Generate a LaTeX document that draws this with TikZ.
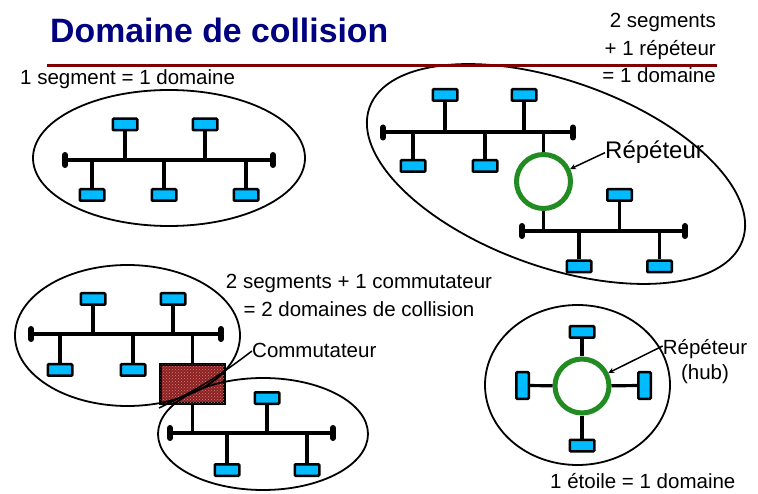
\documentclass[tikz,border=0pt]{standalone}
\usepackage{fontspec}
\setmainfont{Liberation Sans}
\usetikzlibrary{patterns}
\definecolor{titleblue}{RGB}{0,0,128}
\definecolor{ruledark}{RGB}{128,0,0}
\definecolor{stationblue}{RGB}{0,187,255}
\definecolor{hubgreen}{RGB}{34,139,34}
\definecolor{switchred}{RGB}{140,32,32}
\definecolor{switchdots}{RGB}{205,130,130}
\tikzset{
  station/.style={draw,line width=2.5pt,fill=stationblue,rounded corners=1pt,
    minimum width=24.5pt,minimum height=11.5pt,inner sep=0pt},
  vstation/.style={station,minimum width=12.5pt,minimum height=26.5pt},
  bus/.style={line width=4pt},
  stub/.style={line width=3.2pt},
  endcap/.style={line width=6pt,line cap=round},
  zone/.style={line width=1.8pt},
  hub/.style={circle,draw=hubgreen,line width=5pt,minimum size=54pt,inner sep=0pt},
  commbox/.style={draw,line width=3pt,fill=switchred,minimum width=64pt,minimum height=39pt,
    inner sep=0pt,postaction={pattern=crosshatch dots,pattern color=switchdots}},
  lbl/.style={inner sep=0pt,font=\fontsize{20.5}{27.5}\selectfont}
}
\begin{document}
\begin{tikzpicture}[x=1pt,y=-1pt,>=stealth]
\fill[white] (0,0) rectangle (758,494);
\useasboundingbox (0,0) rectangle (758,494);
\node[anchor=base west,inner sep=0pt,text=titleblue,font=\bfseries\fontsize{33.8}{40}\selectfont]
  (title) at (50,43) {Domaine de collision};
\node[lbl,anchor=base west] (dom1) at (20,85) {1 segment = 1 domaine};
\node[lbl,anchor=north east,align=right] (dom2) at (716,13) {2 segments\\+ 1 répéteur\\= 1 domaine};
\node[lbl,anchor=base west,font=\fontsize{24}{28}\selectfont] (rep1) at (605,159) {Répéteur};
\node[lbl,anchor=north,align=center,font=\fontsize{20.5}{28}\selectfont] (dom3) at (359,274)
  {2 segments + 1 commutateur\\= 2 domaines de collision};
\node[lbl,anchor=base west] (com) at (252,358) {Commutateur};
\node[lbl,anchor=north,align=center,font=\fontsize{20.5}{25}\selectfont] (rep2) at (705,339) {Répéteur\\(hub)};
\node[lbl,anchor=base west] (dom5) at (550,488) {1 étoile = 1 domaine};
\foreach \xa/\xb/\y [count=\i] in {65/273/160,383/573/132.5,522/685/231,31/221/334,170/333/433}{
  \coordinate (busL\i) at (\xa,\y);
  \coordinate (busR\i) at (\xb,\y);
  \draw[bus] (busL\i) -- (busR\i);
  \draw[endcap] (\xa,\y-5) -- (\xa,\y+5);
  \draw[endcap] (\xb,\y-5) -- (\xb,\y+5);
}
\foreach \x/\y/\b [count=\i] in {125/124.5/1,205/124.5/1,92/195/1,164/195/1,246/195/1,
    445/95/2,524/95/2,413/166/2,485/166/2,619.5/195/3,579/266.5/3,659.5/266.5/3,
    93/299/4,173/299/4,60/370/4,133/370/4,267/398/5,227/470/5,307/470/5}{
  \node[station] (st\i) at (\x,\y) {};
  \draw[stub] (st\i) -- (st\i |- busL\b);
}
\node[hub] (hub1) at (543.5,181.5) {};
\draw[stub] (hub1) -- (hub1 |- busL2);
\draw[stub] (hub1) -- (hub1 |- busL3);
\node[commbox] (sw) at (192.5,384) {};
\draw[stub] (sw) -- (sw |- busL4);
\draw[stub] (sw) -- (sw |- busL5);
\node[hub] (hub2) at (582,386) {};
\node[station] (top5) at (582,332) {};
\node[station] (bot5) at (582,445.5) {};
\node[vstation] (lft5) at (522.5,385.5) {};
\node[vstation] (rgt5) at (644.5,385.5) {};
\foreach \s in {top5,bot5,lft5,rgt5}
  \draw[stub] (hub2) -- (\s);
\draw[zone] (169,158) ellipse [x radius=136pt,y radius=68pt];
\draw[zone,rotate around={-19.6:(556,174)}] (556,174) ellipse [x radius=198pt,y radius=93pt];
\draw[zone] (127.5,335.5) ellipse [x radius=112.5pt,y radius=70.5pt];
\draw[zone] (263,434) ellipse [x radius=105pt,y radius=56pt];
\draw[zone] (577.5,385) ellipse [x radius=92.5pt,y radius=80pt];
\draw[ruledark,line width=3pt] (47,66) -- (717,66);
\draw[->,line width=1.5pt] (rep1.west) -- (hub1);
\draw[->,line width=1.5pt] ([yshift=-7pt]rep2.north west) -- (hub2);
\draw[line width=1.5pt] (com.west) to[bend left=6] ([yshift=-3pt]sw.south west);
\end{tikzpicture}
\end{document}
